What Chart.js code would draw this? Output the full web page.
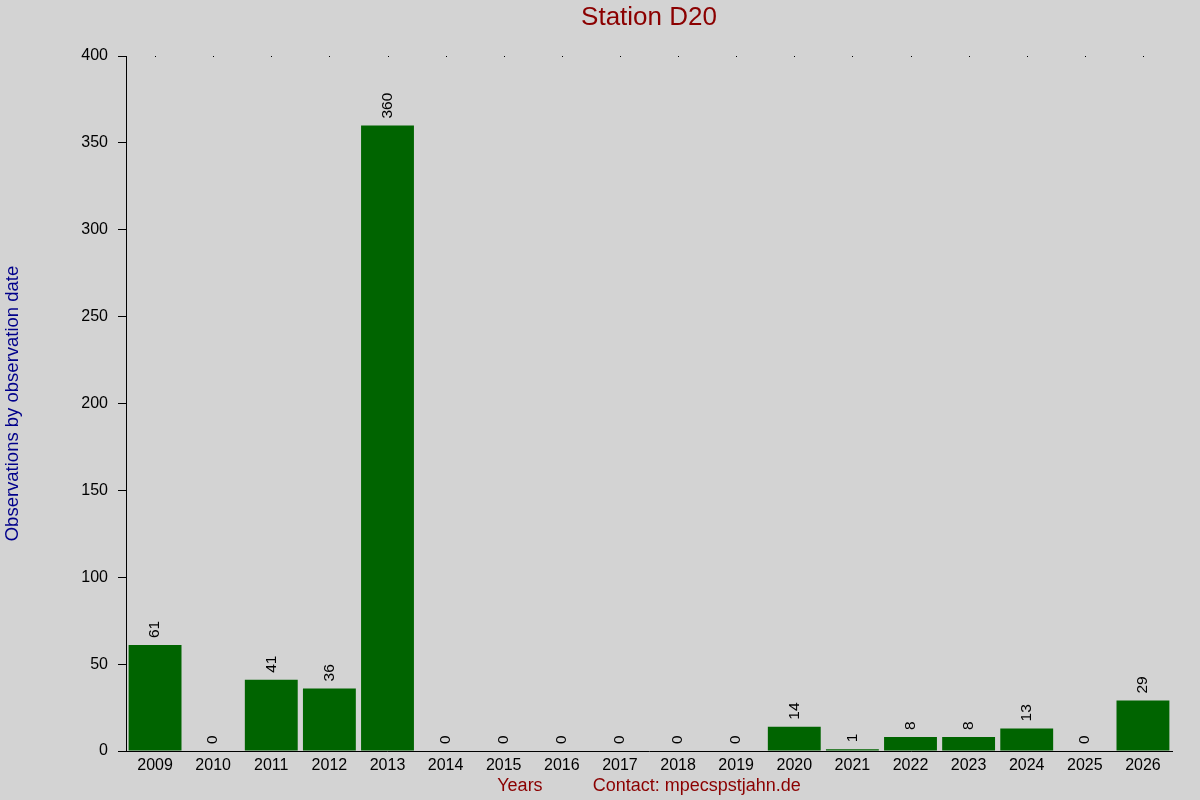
<!DOCTYPE html>
<html lang="en">
<head>
    <meta charset="UTF-8">
    <title>Station D20</title>
    <script src="https://cdn.jsdelivr.net/npm/chart.js"></script>
    <style>
        html, body { margin: 0; padding: 0; background: #d3d3d3; }
        #wrap { width: 1200px; height: 800px; }
    </style>
</head>
<body>
    <div id="wrap"><canvas id="chart" width="1200" height="800"></canvas></div>
    <script>
        const years = ['2009', '2010', '2011', '2012', '2013', '2014', '2015', '2016', '2017',
                       '2018', '2019', '2020', '2021', '2022', '2023', '2024', '2025', '2026'];
        const observations = [61, 0, 41, 36, 360, 0, 0, 0, 0, 0, 0, 14, 1, 8, 8, 13, 0, 29];
        const yTicks = [0, 50, 100, 150, 200, 250, 300, 350, 400];

        const font = 'Liberation Sans, Arial, sans-serif';

        // title over the plot, values written vertically above each bar, dots along the top
        const decorations = {
            id: 'decorations',
            afterDatasetsDraw(chart) {
                const ctx = chart.ctx;
                const area = chart.chartArea;
                ctx.save();

                ctx.fillStyle = '#8b0000';
                ctx.font = '26px ' + font;
                ctx.textAlign = 'center';
                ctx.textBaseline = 'middle';
                ctx.fillText('Station D20', (area.left + area.right) / 2, 18);

                ctx.fillStyle = '#000';
                ctx.font = '15.5px ' + font;
                ctx.textAlign = 'left';
                const meta = chart.getDatasetMeta(0);
                meta.data.forEach((bar, i) => {
                    ctx.save();
                    ctx.translate(bar.x, bar.y - 7);
                    ctx.rotate(-Math.PI / 2);
                    ctx.fillText(String(observations[i]), 0, 0);
                    ctx.restore();
                });

                const xs = chart.scales.x;
                years.forEach((y, i) => {
                    ctx.fillRect(Math.round(xs.getPixelForValue(i)), area.top, 1, 1);
                });
                ctx.restore();
            }
        };

        new Chart(document.getElementById('chart').getContext('2d'), {
            type: 'bar',
            data: {
                labels: years,
                datasets: [{
                    data: observations,
                    backgroundColor: '#006400',
                    borderWidth: 0,
                    barPercentage: 0.91,
                    categoryPercentage: 1.0
                }]
            },
            options: {
                responsive: false,
                animation: false,
                layout: { padding: { left: 0, right: 28, top: 56, bottom: 0 } },
                plugins: {
                    legend: { display: false },
                    tooltip: { enabled: false },
                    title: { display: false }
                },
                scales: {
                    x: {
                        grid: { display: false, drawTicks: false },
                        border: { display: true, color: '#000', width: 1 },
                        ticks: {
                            color: '#000',
                            font: { family: font, size: 16 },
                            maxRotation: 0,
                            autoSkip: false,
                            padding: 5
                        },
                        title: {
                            display: true,
                            text: 'Years          Contact: mpecspstjahn.de',
                            color: '#8b0000',
                            font: { family: font, size: 18 },
                            padding: { top: 0, bottom: 3 }
                        },
                        afterFit(scale) { scale.height = 49; }
                    },
                    y: {
                        min: 0,
                        max: 400,
                        afterBuildTicks(scale) { scale.ticks = yTicks.map(v => ({ value: v })); },
                        grid: {
                            drawOnChartArea: false,
                            drawTicks: true,
                            tickLength: 8,
                            color: '#000'
                        },
                        border: { display: true, color: '#000', width: 1 },
                        ticks: {
                            color: '#000',
                            font: { family: font, size: 16 },
                            padding: 10
                        },
                        title: {
                            display: true,
                            text: 'Observations by observation date',
                            color: '#00008b',
                            font: { family: font, size: 18.5 },
                            padding: { top: 2, bottom: 0 }
                        },
                        afterFit(scale) { scale.width = 126; }
                    }
                }
            },
            plugins: [decorations]
        });
    </script>
</body>
</html>
